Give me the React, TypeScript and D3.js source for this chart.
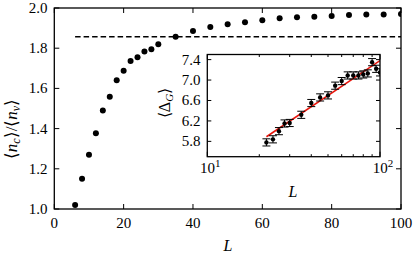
import React, { useEffect, useRef } from "react";
import * as d3 from "d3";

// main panel: <n_c>/<n_v> vs L
const mainL = [6, 8, 10, 12, 14, 16, 18, 20, 22, 24, 26, 28, 30, 35, 40, 45, 50, 55, 60, 65, 70, 75, 80, 85, 90, 95, 100];
const mainRatio = [1.02, 1.15, 1.27, 1.377, 1.49, 1.558, 1.64, 1.688, 1.736, 1.755, 1.783, 1.795, 1.82, 1.857, 1.886, 1.906, 1.919, 1.929, 1.939, 1.949, 1.954, 1.957, 1.96, 1.965, 1.968, 1.968, 1.97];
const dashedLevel = 1.857;
const mainXTicks = [0, 20, 40, 60, 80, 100];
const mainYTicks = [1.0, 1.2, 1.4, 1.6, 1.8, 2.0];

// inset: <Delta_G> vs L (log x)
const insetL = [22, 24, 26, 28, 30, 35, 40, 45, 50, 55, 60, 65, 70, 75, 80, 85, 90, 95, 100];
const insetDelta = [5.78, 5.84, 6.0, 6.15, 6.16, 6.32, 6.55, 6.66, 6.7, 6.89, 6.98, 7.09, 7.09, 7.09, 7.11, 7.13, 7.35, 7.22, 7.15];
const insetErr = [0.07, 0.07, 0.07, 0.07, 0.07, 0.07, 0.07, 0.07, 0.07, 0.07, 0.07, 0.07, 0.07, 0.07, 0.07, 0.07, 0.07, 0.07, 0.07];
const fitL = [22, 100];
const fitDelta = [5.89, 7.38];
const insetYTicks = [5.8, 6.2, 6.6, 7.0, 7.4];

const FONT = "Liberation Serif, serif";

export default function App() {
	const ref = useRef<SVGSVGElement>(null);

	useEffect(() => {
		const svg = d3.select(ref.current);
		svg.selectAll("*").remove();
		svg.attr("font-family", FONT);

		// ---- main panel ----
		const m = { left: 54.3, right: 401, top: 8, bottom: 209 };
		const x = d3.scaleLinear().domain([0, 100]).range([m.left, m.right]);
		const y = d3.scaleLinear().domain([1.0, 2.0]).range([m.bottom, m.top]);

		svg.append("defs")
			.append("clipPath")
			.attr("id", "mainClip")
			.append("rect")
			.attr("x", m.left)
			.attr("y", m.top)
			.attr("width", m.right - m.left)
			.attr("height", m.bottom - m.top);

		const g = svg.append("g");

		g.append("line")
			.attr("x1", x(6))
			.attr("x2", x(100))
			.attr("y1", y(dashedLevel))
			.attr("y2", y(dashedLevel))
			.attr("stroke", "#000")
			.attr("stroke-width", 1.5)
			.attr("stroke-dasharray", "5.5,3");

		g.append("g")
			.attr("clip-path", "url(#mainClip)")
			.selectAll("circle")
			.data(mainL)
			.enter()
			.append("circle")
			.attr("cx", (d) => x(d))
			.attr("cy", (_, i) => y(mainRatio[i]))
			.attr("r", 3)
			.attr("fill", "#000");

		// ticks, inward on all four sides
		mainXTicks.forEach((t) => {
			g.append("line").attr("x1", x(t)).attr("x2", x(t)).attr("y1", m.bottom).attr("y2", m.bottom - 5).attr("stroke", "#000");
			g.append("line").attr("x1", x(t)).attr("x2", x(t)).attr("y1", m.top).attr("y2", m.top + 5).attr("stroke", "#000");
			g.append("text")
				.attr("x", x(t))
				.attr("y", 228)
				.attr("text-anchor", "middle")
				.attr("font-size", 15)
				.text(t);
		});
		mainYTicks.forEach((t) => {
			g.append("line").attr("x1", m.left).attr("x2", m.left + 5).attr("y1", y(t)).attr("y2", y(t)).attr("stroke", "#000");
			g.append("line").attr("x1", m.right).attr("x2", m.right - 5).attr("y1", y(t)).attr("y2", y(t)).attr("stroke", "#000");
			g.append("text")
				.attr("x", 47.5)
				.attr("y", y(t) + 5)
				.attr("text-anchor", "end")
				.attr("font-size", 15)
				.text(t.toFixed(1));
		});

		g.append("rect")
			.attr("x", m.left)
			.attr("y", m.top)
			.attr("width", m.right - m.left)
			.attr("height", m.bottom - m.top)
			.attr("fill", "none")
			.attr("stroke", "#000")
			.attr("stroke-width", 1.3);

		g.append("text")
			.attr("x", 228)
			.attr("y", 251)
			.attr("text-anchor", "middle")
			.attr("font-size", 16)
			.attr("font-style", "italic")
			.text("L");

		const yl = g.append("text")
			.attr("transform", "translate(17,129) rotate(-90)")
			.attr("text-anchor", "middle")
			.attr("font-size", 17);
		yl.append("tspan").text("⟨");
		yl.append("tspan").attr("font-style", "italic").text("n");
		yl.append("tspan").attr("dy", 3).attr("font-size", 12).attr("font-style", "italic").text("c");
		yl.append("tspan").attr("dy", -3).text("⟩/⟨");
		yl.append("tspan").attr("font-style", "italic").text("n");
		yl.append("tspan").attr("dy", 3).attr("font-size", 12).attr("font-style", "italic").text("v");
		yl.append("tspan").attr("dy", -3).text("⟩");

		// ---- inset ----
		const n = { left: 207.3, right: 380, top: 54.5, bottom: 156.7 };
		const ix = d3.scaleLog().domain([10, 100]).range([n.left, n.right]);
		const iy = d3.scaleLinear().domain([5.5, 7.5]).range([n.bottom, n.top]);

		svg.append("defs")
			.append("clipPath")
			.attr("id", "insetClip")
			.append("rect")
			.attr("x", n.left)
			.attr("y", n.top)
			.attr("width", n.right - n.left)
			.attr("height", n.bottom - n.top);

		const ig = svg.append("g");
		ig.append("rect")
			.attr("x", n.left)
			.attr("y", n.top)
			.attr("width", n.right - n.left)
			.attr("height", n.bottom - n.top)
			.attr("fill", "#fff");

		const body = ig.append("g").attr("clip-path", "url(#insetClip)");

		const fitLine = d3.line<number>()
			.x((d) => ix(d))
			.y((_, i) => iy(fitDelta[i]));
		body.append("path")
			.attr("d", fitLine(fitL))
			.attr("fill", "none")
			.attr("stroke", "#e8160c")
			.attr("stroke-width", 1.6);

		const pts = body.selectAll("g.pt").data(insetL).enter().append("g").attr("class", "pt");
		pts.append("line")
			.attr("x1", (d) => ix(d))
			.attr("x2", (d) => ix(d))
			.attr("y1", (_, i) => iy(insetDelta[i] - insetErr[i]))
			.attr("y2", (_, i) => iy(insetDelta[i] + insetErr[i]))
			.attr("stroke", "#000")
			.attr("stroke-width", 1);
		[-1, 1].forEach((s) => {
			pts.append("line")
				.attr("x1", (d) => ix(d) - 4)
				.attr("x2", (d) => ix(d) + 4)
				.attr("y1", (_, i) => iy(insetDelta[i] + s * insetErr[i]))
				.attr("y2", (_, i) => iy(insetDelta[i] + s * insetErr[i]))
				.attr("stroke", "#000")
				.attr("stroke-width", 1);
		});
		pts.append("circle")
			.attr("cx", (d) => ix(d))
			.attr("cy", (_, i) => iy(insetDelta[i]))
			.attr("r", 2.2)
			.attr("fill", "#000");

		const logTicks = d3.range(10, 101, 10);
		logTicks.forEach((t) => {
			const major = t === 10 || t === 100;
			const len = major ? 5 : 2.5;
			ig.append("line").attr("x1", ix(t)).attr("x2", ix(t)).attr("y1", n.bottom).attr("y2", n.bottom - len).attr("stroke", "#000");
			ig.append("line").attr("x1", ix(t)).attr("x2", ix(t)).attr("y1", n.top).attr("y2", n.top + len).attr("stroke", "#000");
		});
		[
			[10, "1"],
			[100, "2"],
		].forEach(([v, e]) => {
			const tl = ig.append("text")
				.attr("x", ix(v as number) + 3)
				.attr("y", 173)
				.attr("text-anchor", "middle")
				.attr("font-size", 15);
			tl.append("tspan").text("10");
			tl.append("tspan").attr("dy", -6).attr("font-size", 11).text(e as string);
		});
		insetYTicks.forEach((t) => {
			ig.append("line").attr("x1", n.left).attr("x2", n.left + 4).attr("y1", iy(t)).attr("y2", iy(t)).attr("stroke", "#000");
			ig.append("line").attr("x1", n.right).attr("x2", n.right - 4).attr("y1", iy(t)).attr("y2", iy(t)).attr("stroke", "#000");
			ig.append("text")
				.attr("x", 200.5)
				.attr("y", iy(t) + 5)
				.attr("text-anchor", "end")
				.attr("font-size", 15)
				.text(t.toFixed(1));
		});

		ig.append("rect")
			.attr("x", n.left)
			.attr("y", n.top)
			.attr("width", n.right - n.left)
			.attr("height", n.bottom - n.top)
			.attr("fill", "none")
			.attr("stroke", "#000")
			.attr("stroke-width", 1.3);

		ig.append("text")
			.attr("x", 293)
			.attr("y", 197)
			.attr("text-anchor", "middle")
			.attr("font-size", 16)
			.attr("font-style", "italic")
			.text("L");

		const il = ig.append("text")
			.attr("transform", "translate(170,103) rotate(-90)")
			.attr("text-anchor", "middle")
			.attr("font-size", 16);
		il.append("tspan").text("⟨Δ");
		il.append("tspan").attr("dy", 3).attr("font-size", 11).attr("font-style", "italic").text("G");
		il.append("tspan").attr("dy", -3).text("⟩");
	}, []);

	return (
		<svg
			ref={ref}
			width={415}
			height={256}
			style={{ position: "absolute", left: 0, top: 0, background: "#fff" }}
		/>
	);
}
